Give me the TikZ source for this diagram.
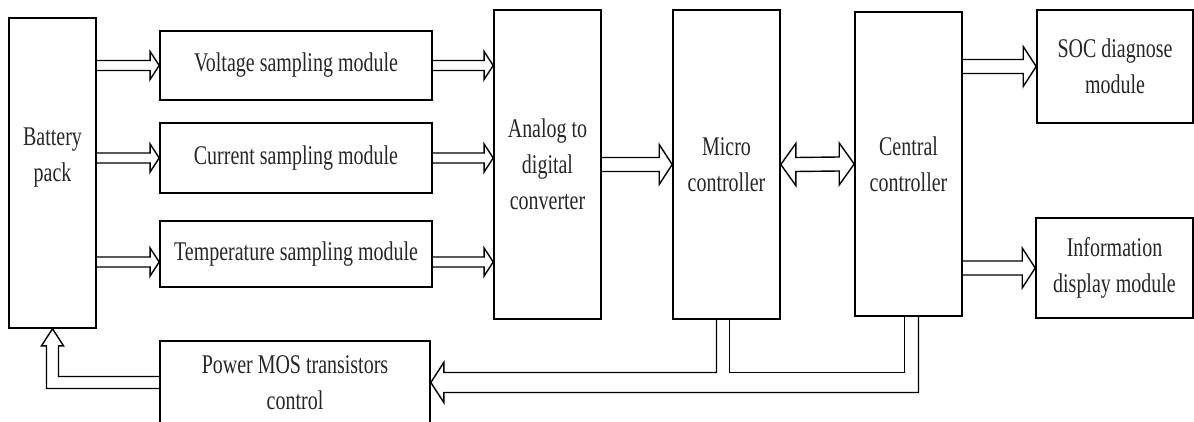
\documentclass[tikz,border=0pt]{standalone}
\usepackage{fontspec}
\setmainfont[FakeStretch=0.74]{Liberation Serif}
\usepackage{tikz}
\usetikzlibrary{calc}

\tikzset{
  block/.style={draw, line width=0.8pt, inner sep=0pt, align=center,
    text=black!85, font=\fontsize{13.5}{18}\selectfont},
  flow/.style={line width=0.7pt, line join=miter},
}

% hollow arrow to the right: tail, tip, half shaft, half head
\newcommand{\fatarrow}[4]{%
  \draw[flow] ($(#1)+(0,-#3)$) -- ($(#2)+(-0.65*#4,-#3)$) -- ++(0,#3-#4)
    -- (#2) -- ++(-0.65*#4,#4) -- ++(0,#3-#4) -- ($(#1)+(0,#3)$);}

\begin{document}
\begin{tikzpicture}[x=0.5pt, y=-0.5pt]
\useasboundingbox (0,0) rectangle (1194,422);

% blocks
\node[block, minimum width=43.5pt, minimum height=155pt, text depth=18pt] (bat) at (52.5,173) {Battery\\pack};
\node[block, minimum width=136pt, minimum height=34.5pt] (volt) at (296,65.5) {Voltage sampling module};
\node[block, minimum width=136pt, minimum height=35pt] (curr) at (296,158) {Current sampling module};
\node[block, minimum width=136pt, minimum height=33pt] (temp) at (296,254) {Temperature sampling module};
\node[block, minimum width=53.5pt, minimum height=154.5pt] (adc) at (547.5,164.5) {Analog to\\digital\\converter};
\node[block, minimum width=53.5pt, minimum height=154.5pt] (micro) at (726.5,164.5) {Micro\\controller};
\node[block, minimum width=53.5pt, minimum height=152pt] (central) at (908.5,164) {Central\\controller};
\node[block, minimum width=78pt, minimum height=56.5pt] (soc) at (1115,66.5) {SOC diagnose\\module};
\node[block, minimum width=78.5pt, minimum height=50pt] (info) at (1114.5,268) {Information\\display module};
\node[block, minimum width=135pt, minimum height=41.5pt] (pmos) at (295,382.5) {Power MOS transistors\\control};

\coordinate (tin) at ($(temp.west)+(0,8)$);
\coordinate (tout) at ($(temp.east)+(0,8)$);

% sampling
\fatarrow{bat.east |- volt.west}{volt.west}{5}{14}
\fatarrow{bat.east |- curr.west}{curr.west}{5}{14}
\fatarrow{bat.east |- tin}{tin}{5}{14}
\fatarrow{volt.east}{adc.west |- volt.east}{5}{14}
\fatarrow{curr.east}{adc.west |- curr.east}{5}{14}
\fatarrow{tout}{adc.west |- tout}{5}{14}

% controllers
\fatarrow{adc.east}{micro.west}{7}{20}
\fatarrow{central.east |- soc.west}{soc.west}{7}{20}
\fatarrow{central.east |- info.west}{info.west}{7}{20}
\draw[flow] (micro.east) -- ++(15,-21) -- ++(0,14) -- ($(central.west)+(-15,-7)$)
  -- ++(0,-14) -- (central.west) -- ++(-15,21) -- ++(0,-14)
  -- ($(micro.east)+(15,7)$) -- ++(0,14) -- cycle;

% feedback
\draw[flow] ($(micro.south)+(-10,0)$) |- ($(pmos.east)+(13,-10)$) -- ++(0,-10)
  -- (pmos.east) -- ++(13,20) -- ++(0,-10) -| ($(central.south)+(10,0)$);
\draw[flow] ($(micro.south)+(3,0)$) |- ($(central.south |- pmos.east)+(-4,-10)$)
  -- ($(central.south)+(-4,0)$);
\draw[flow] ($(pmos.west)+(0,-6)$) -| ($(bat.south)+(6,17)$) -- ++(5,0)
  -- (bat.south) -- ++(-11,17) -- ++(5,0) |- ($(pmos.west)+(0,6)$);
\end{tikzpicture}
\end{document}
